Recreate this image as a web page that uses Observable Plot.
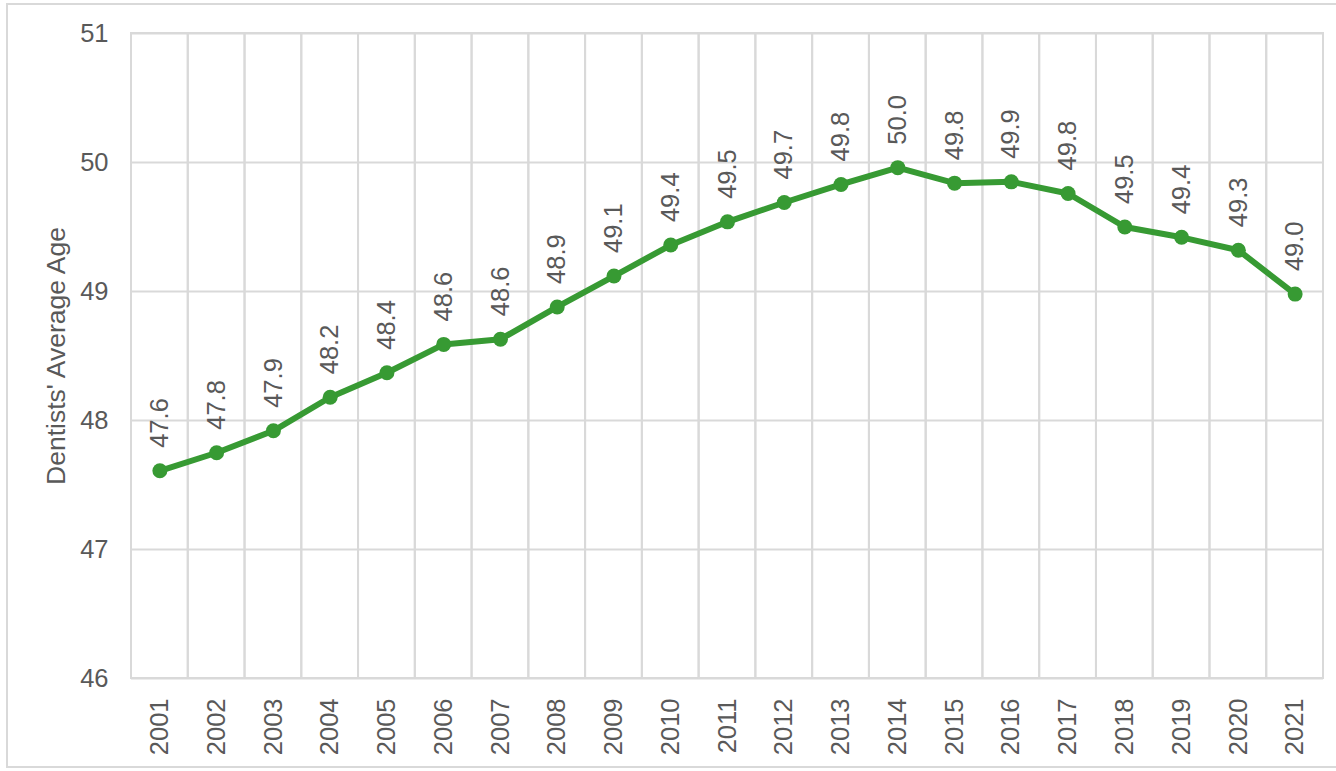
<!DOCTYPE html>
<html>
<head>
<meta charset="utf-8">
<script src="https://cdn.jsdelivr.net/npm/d3@7"></script>
<script src="https://cdn.jsdelivr.net/npm/@observablehq/plot@0.6"></script>
<style>
  html, body { margin: 0; padding: 0; background: #fff; }
  #wrap { position: relative; width: 1336px; height: 771px; overflow: hidden; }
  #border { position: absolute; left: 6px; top: 3px; width: 1340px; height: 765px; border: 2px solid #d9d9d9; box-sizing: border-box; pointer-events: none; }
  #chart svg { display: block; }
</style>
</head>
<body>
<div id="wrap"><div id="chart"></div><div id="border"></div></div>
<script>
const years = ["2001","2002","2003","2004","2005","2006","2007","2008","2009","2010","2011","2012","2013","2014","2015","2016","2017","2018","2019","2020","2021"];
const avgAge = [47.61, 47.75, 47.92, 48.18, 48.37, 48.59, 48.63, 48.88, 49.12, 49.36, 49.54, 49.69, 49.83, 49.96, 49.84, 49.85, 49.76, 49.50, 49.42, 49.32, 48.98];
const yTicks = [46, 47, 48, 49, 50, 51];
const yLabel = "Dentists' Average Age";

const data = years.map((year, i) => ({year, age: avgAge[i]}));

const green = "#379a33";
const grid = "#d9d9d9";
const textColor = "#595959";

const chart = Plot.plot({
  width: 1336,
  height: 771,
  marginLeft: 131,
  marginRight: 13,
  marginTop: 33,
  marginBottom: 93,
  style: {fontFamily: "'Liberation Sans', Arial, sans-serif", fontSize: "25.5px", color: textColor, background: "transparent"},
  x: {type: "band", domain: years, padding: 0, round: false},
  y: {domain: [46, 51]},
  marks: [
    Plot.ruleY(yTicks, {stroke: grid, strokeWidth: 2}),
    Plot.barY(years, {x: d => d, y1: 46, y2: 51, fill: "none", stroke: grid, strokeWidth: 2}),
    Plot.axisY({ticks: yTicks, tickFormat: "d", tickSize: 0, tickPadding: 23, fontSize: 25.5, label: null}),
    Plot.axisX({tickSize: 0, tickRotate: -90, tickPadding: 20, fontSize: 25.5, label: null}),
    Plot.text([yLabel], {frameAnchor: "left", text: d => d, rotate: -90, textAnchor: "middle", lineAnchor: "middle", dx: -75, fontSize: 26.5, fill: textColor}),
    Plot.line(data, {x: "year", y: "age", stroke: green, strokeWidth: 6, strokeLinejoin: "round"}),
    Plot.dot(data, {x: "year", y: "age", r: 7.5, fill: green, stroke: "none"}),
    Plot.text(data, {x: "year", y: "age", text: d => d3.format(".1f")(d.age), rotate: -90, textAnchor: "start", lineAnchor: "middle", dx: 0, dy: -23, fill: textColor, fontSize: 25.5})
  ]
});
document.getElementById("chart").appendChild(chart);
</script>
</body>
</html>
